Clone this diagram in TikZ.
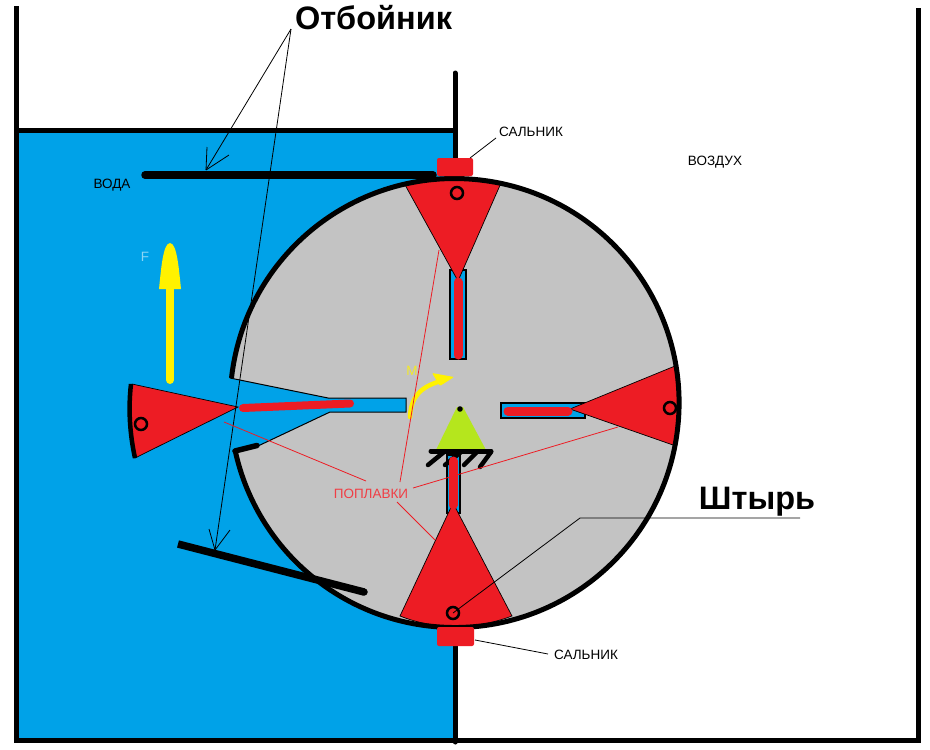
\documentclass[tikz,border=0pt]{standalone}
\usepackage{fontspec}
\setmainfont{Liberation Sans}
\definecolor{wat}{RGB}{0,162,232}
\definecolor{flt}{RGB}{237,28,36}
\definecolor{gry}{RGB}{195,195,195}
\definecolor{yel}{RGB}{255,242,0}
\definecolor{lim}{RGB}{181,230,29}
\tikzset{
 wall/.style={line width=5pt,black},
 thick blk/.style={line width=7.5pt,black,line cap=round},
 lead/.style={line width=0.8pt,black},
 redlead/.style={line width=0.8pt,flt},
 thin box/.style={draw=black,line width=1.1pt,fill=wat},
 floatbody/.style={fill=flt,draw=black,line width=0.7pt},
 rod/.style={line width=9pt,flt,line cap=round},
 pin/.style={draw=black,line width=2.5pt,fill=flt,circle,minimum size=12pt,inner sep=0pt},
 seal/.style={fill=flt,rounded corners=2pt},
 lbl/.style={font=\fontsize{13.5}{15}\selectfont,inner sep=0pt,text=black},
 big/.style={font=\bfseries\fontsize{32.5}{36}\selectfont,inner sep=0pt,text=black},
}
\begin{document}
\begin{tikzpicture}[x=1pt,y=-1pt]
\useasboundingbox (0,0) rectangle (930,750);
\fill[white] (0,0) rectangle (930,750);
% water
\fill[wat] (16,130) rectangle (455,738);
% walls
\draw[wall] (16,6) -- (16,740) -- (918,740) -- (918,8);
\draw[wall] (16,130) -- (455,130);
\draw[wall,line cap=round] (455,73) -- (455,742);
% drum
\fill[gry] (455,403) circle (224);
\fill[wat] (230,378) -- (328,398) -- (406,398) -- (406,412) -- (330,412) -- (258,446) -- (233,452) -- (190,452) -- (190,378) -- cycle;
\draw[line width=1pt] (230,378) -- (328,398) -- (406,398) -- (406,412) -- (330,412) -- (258,446);
% slots
\draw[thin box] (450,270) rectangle (466,359);
\draw[thin box] (501,403) rectangle (585,418);
\draw[thin box] (447,455) rectangle (460,513);
% pivot
\fill[lim] (436,450) -- (457,407) -- (463,407) -- (486,450) -- cycle;
\fill (460,409) circle (2.8);
\draw[line width=5pt,line cap=round] (431,451) -- (491,451);
\draw[line width=4.5pt,line cap=round] (444,452) -- (428,465);
\draw[line width=4.5pt,line cap=round] (461,452) -- (445,465);
\draw[line width=4.5pt,line cap=round] (477,452) -- (464,465);
\draw[line width=4.5pt,line cap=round] (491,452) -- (480,467);
% floats
\draw[floatbody] (404,183) .. controls (435,176) and (470,176) .. (501,183) -- (458,281) -- cycle;
\draw[rod] (458,282) -- (458,355);
\draw[floatbody] (570,409) -- (675,366) .. controls (682,395) and (682,420) .. (673,445) -- cycle;
\draw[rod] (508,411) -- (568,411);
\draw[floatbody] (453,503) -- (512,616) .. controls (475,630) and (435,630) .. (400,616) -- cycle;
\draw[rod] (453,505) -- (453,461);
\draw[floatbody] (132,384) -- (238,407) -- (135,458) .. controls (131,435) and (129,410) .. (132,384) -- cycle;
\draw[line width=4.5pt,black] (131,384) .. controls (128,410) and (130,435) .. (135,458);
\draw[line width=8pt,flt,line cap=round] (243,408) -- (350,403.5);
% drum rim
\draw[line width=5pt] (231.5,378) arc[start angle=186.4,end angle=528,radius=224.5];
\draw[thick blk,line width=5.5pt] (235,451) -- (257,445.5);
\node[pin] (p1) at (141,424) {};
\node[pin] (p2) at (457,193) {};
\node[pin] (p3) at (670,408) {};
\node[pin] (p4) at (453,613) {};
% seals
\fill[seal] (437,158) rectangle (473,176);
\fill[seal] (437,627) rectangle (474,646);
% deflectors
\draw[thick blk] (145,175) -- (433,175);
\draw[line width=7.5pt] (178,544) -- (364,592);
\fill (364,592) circle (3.75);
% yellow
\draw[yel,line width=8pt,line cap=round] (170,380) -- (170,280);
\fill[yel] (159,289) .. controls (161,270) and (163,243) .. (170,243) .. controls (177,243) and (179,270) .. (181,289) -- cycle;
\draw[yel,line width=4.5pt,line cap=round] (410,417) .. controls (411,397) and (420,387) .. (441,381);
\fill[yel,rounded corners=1pt] (432,373) -- (454,377) -- (440,386) -- cycle;
% texts
\node[big] (t1) at (373.5,18) {Отбойник};
\node[big] (t2) at (757,502) {Штырь};
\node[lbl] (t3) at (531,132) {САЛЬНИК};
\node[lbl] (t4) at (715,162) {ВОЗДУХ};
\node[lbl] (t5) at (112,185) {ВОДА};
\node[lbl] (t6) at (586,655) {САЛЬНИК};
\node[lbl,text=flt!85!white] (t7) at (371,494) {ПОПЛАВКИ};
\node[lbl,text=yel!80!gry] (tm) at (412,371) {М};
\node[lbl,text=wat!45!white] (tf) at (145,257) {F};
% leaders
\coordinate (a1) at (206,170);
\coordinate (a2) at (215,550);
\coordinate (top) at (291,29);
\draw[lead] (top) -- (a1);
\draw[lead] (top) -- (a2);
\draw[lead] (a1) -- (229,155) (a1) -- (207,147);
\draw[lead] (a2) -- (209,529) (a2) -- (230,530);
\draw[lead] (470,158) -- (496,138);
\draw[lead] (475,640) -- (548,654);
\draw[lead] (453,613) -- (580,518) -- (800,518);
\draw[redlead] (439,250) -- (400,482);
\draw[redlead] (224,422) -- (366,481);
\draw[redlead] (413,488) -- (618,427);
\draw[redlead] (397,502) -- (435,540);
\end{tikzpicture}
\end{document}
